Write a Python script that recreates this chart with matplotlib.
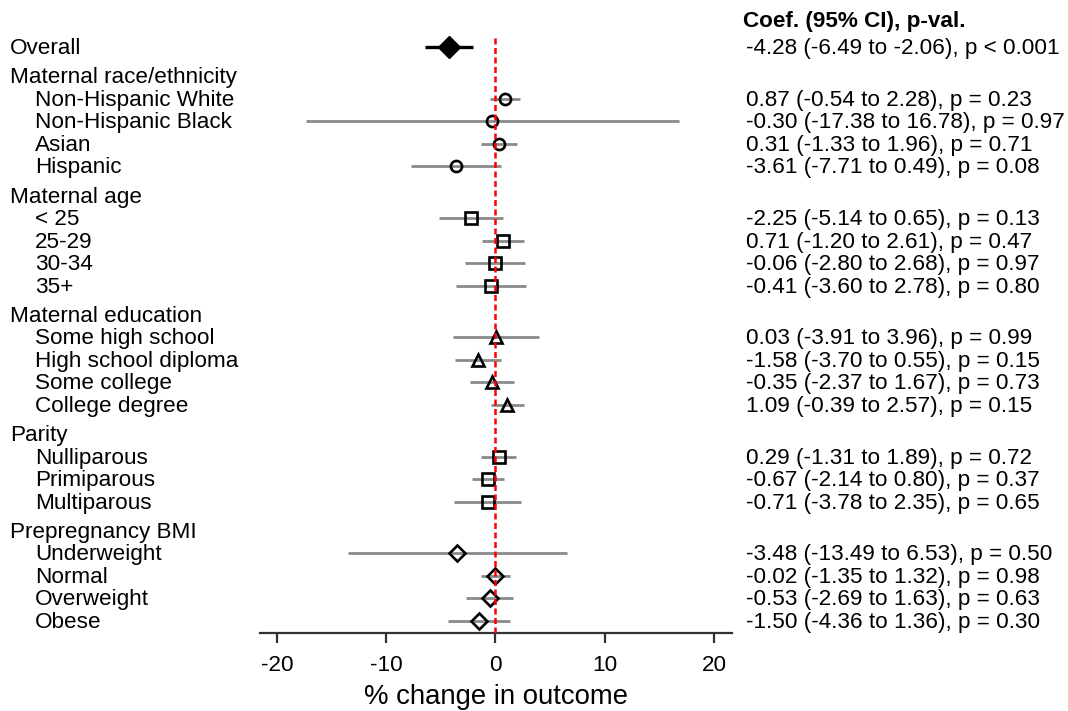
import matplotlib
matplotlib.use("Agg")
import matplotlib.pyplot as plt
from matplotlib.transforms import blended_transform_factory

plt.rcParams['font.family'] = ['Liberation Sans', 'DejaVu Sans']

overall_label = "Overall"
overall_coef = -4.28
overall_lo = -6.49
overall_hi = -2.06
overall_txt = "-4.28 (-6.49 to -2.06), p < 0.001"

groups = ["Maternal race/ethnicity", "Maternal age", "Maternal education",
          "Parity", "Prepregnancy BMI"]
group_markers = ["o", "s", "^", "s", "D"]

items = [
    ["Non-Hispanic White", "Non-Hispanic Black", "Asian", "Hispanic"],
    ["< 25", "25-29", "30-34", "35+"],
    ["Some high school", "High school diploma", "Some college", "College degree"],
    ["Nulliparous", "Primiparous", "Multiparous"],
    ["Underweight", "Normal", "Overweight", "Obese"],
]
coefs = [
    [0.87, -0.30, 0.31, -3.61],
    [-2.25, 0.71, -0.06, -0.41],
    [0.03, -1.58, -0.35, 1.09],
    [0.29, -0.67, -0.71],
    [-3.48, -0.02, -0.53, -1.50],
]
lowers = [
    [-0.54, -17.38, -1.33, -7.71],
    [-5.14, -1.20, -2.80, -3.60],
    [-3.91, -3.70, -2.37, -0.39],
    [-1.31, -2.14, -3.78],
    [-13.49, -1.35, -2.69, -4.36],
]
uppers = [
    [2.28, 16.78, 1.96, 0.49],
    [0.65, 2.61, 2.68, 2.78],
    [3.96, 0.55, 1.67, 2.57],
    [1.89, 0.80, 2.35],
    [6.53, 1.32, 1.63, 1.36],
]
pvals = [
    ["0.23", "0.97", "0.71", "0.08"],
    ["0.13", "0.47", "0.97", "0.80"],
    ["0.99", "0.15", "0.73", "0.15"],
    ["0.72", "0.37", "0.65"],
    ["0.50", "0.98", "0.63", "0.30"],
]
xticks = [-20, -10, 0, 10, 20]
xlabel = "% change in outcome"
col_header = "Coef. (95% CI), p-val."

W, H = 1068, 711
fig = plt.figure(figsize=(W / 100, H / 100), dpi=100)
ax_left, ax_right = 260, 732
ax_top, ax_bot = 36, 633
ax = fig.add_axes([ax_left / W, (H - ax_bot) / H, (ax_right - ax_left) / W,
                   (ax_bot - ax_top) / H])
row_px = 22.5
y0_px = 47
ax.set_ylim((ax_bot - y0_px) / row_px, (ax_top - y0_px) / row_px)
ax.set_xlim(-21.55, 21.65)

FS = 16.2
gray = "#8a8a8a"
trans = blended_transform_factory(fig.transFigure, ax.transData)
left_head = 10 / W
left_item = 35 / W
right_x = 746 / W
tdy = 0.07  # small downward shift of text rows

# overall
pos = 0.0
ax.plot([overall_lo, overall_hi], [pos, pos], color="black", lw=2.4,
        solid_capstyle="butt", zorder=2)
ax.plot([overall_coef], [pos], marker="D", markersize=11, color="black",
        zorder=3)
ax.text(left_head, pos + tdy, overall_label, transform=trans, fontsize=FS,
        va="center", ha="left")
ax.text(right_x, pos + tdy, overall_txt, transform=trans, fontsize=FS,
        va="center", ha="left")

msizes = {"o": 8, "s": 8.5, "^": 8.5, "D": 8}
for g, gname in enumerate(groups):
    pos += 1.3
    ax.text(left_head, pos + tdy, gname, transform=trans, fontsize=FS,
            va="center", ha="left")
    for i, name in enumerate(items[g]):
        pos += 1
        c, lo, hi = coefs[g][i], lowers[g][i], uppers[g][i]
        ax.plot([lo, hi], [pos, pos], color=gray, lw=2.0,
                solid_capstyle="butt", zorder=2)
        m = group_markers[g]
        ax.plot([c], [pos], marker=m, markersize=msizes[m],
                markerfacecolor="none", markeredgecolor="black",
                markeredgewidth=1.9, zorder=3, linestyle="none")
        ax.text(left_item, pos + tdy, name, transform=trans, fontsize=FS,
                va="center", ha="left")
        txt = f"{c:.2f} ({lo:.2f} to {hi:.2f}), p = {pvals[g][i]}"
        ax.text(right_x, pos + tdy, txt, transform=trans, fontsize=FS,
                va="center", ha="left")

ax.text(743 / W, (21 - y0_px) / row_px, col_header, transform=trans,
        fontsize=FS, fontweight="bold", va="center", ha="left")

ax.axvline(0, color="red", lw=1.8, linestyle=(0, (2.4, 1.4)), zorder=4)

for s in ["top", "left", "right"]:
    ax.spines[s].set_visible(False)
ax.spines["bottom"].set_color("#333333")
ax.spines["bottom"].set_linewidth(1.6)
ax.set_yticks([])
ax.set_xticks(xticks)
ax.set_xticklabels([str(t) for t in xticks], fontsize=FS)
ax.tick_params(axis="x", length=7.5, width=1.6, color="#333333", pad=8)
ax.set_xlabel(xlabel, fontsize=19.8, labelpad=6)

fig.savefig("out.png", dpi=100)
